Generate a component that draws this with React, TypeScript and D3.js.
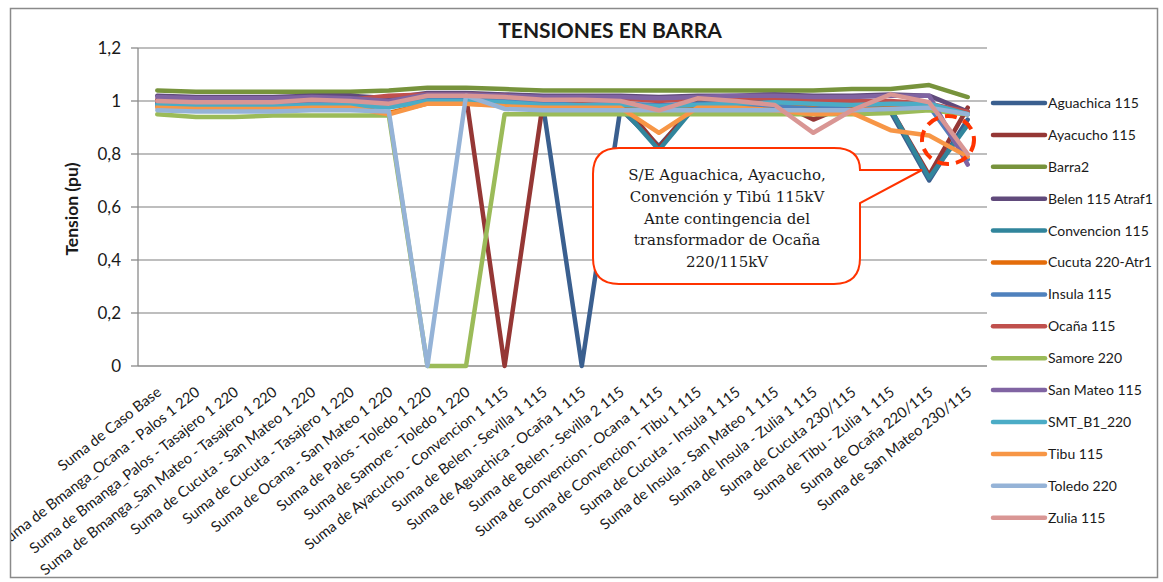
import React from "react";
import * as d3 from "d3";

const categories = [
  "Suma de Caso Base",
  "Suma de Bmanga_Ocana - Palos 1 220",
  "Suma de Bmanga_Palos - Tasajero 1 220",
  "Suma de Bmanga_San Mateo - Tasajero 1 220",
  "Suma de Cucuta - San Mateo 1 220",
  "Suma de Cucuta - Tasajero 1 220",
  "Suma de Ocana - San Mateo 1 220",
  "Suma de Palos - Toledo 1 220",
  "Suma de Samore - Toledo 1 220",
  "Suma de Ayacucho  - Convencion 1 115",
  "Suma de Belen - Sevilla 1 115",
  "Suma de Aguachica - Ocaña 1 115",
  "Suma de Belen - Sevilla 2 115",
  "Suma de Convencion - Ocana 1 115",
  "Suma de Convencion - Tibu 1 115",
  "Suma de Cucuta - Insula 1 115",
  "Suma de Insula - San Mateo 1 115",
  "Suma de Insula - Zulia 1 115",
  "Suma de Cucuta 230/115",
  "Suma de Tibu - Zulia 1 115",
  "Suma de Ocaña 220/115",
  "Suma de San Mateo 230/115",
];

const yTickValues = [0, 0.2, 0.4, 0.6, 0.8, 1, 1.2];
const yTickLabels = ["0", "0,2", "0,4", "0,6", "0,8", "1", "1,2"];

const seriesNames = [
  "Aguachica 115",
  "Ayacucho 115",
  "Barra2",
  "Belen 115 Atraf1",
  "Convencion 115",
  "Cucuta 220-Atr1",
  "Insula 115",
  "Ocaña 115",
  "Samore 220",
  "San Mateo 115",
  "SMT_B1_220",
  "Tibu 115",
  "Toledo 220",
  "Zulia 115",
];

const seriesColors = [
  "#3a5f8f",
  "#953735",
  "#77933c",
  "#604a7b",
  "#31859c",
  "#e46c0a",
  "#4f81bd",
  "#c0504d",
  "#9bbb59",
  "#8064a2",
  "#4bacc6",
  "#f79646",
  "#95b3d7",
  "#d99694",
];

const aguachica = [0.995, 0.99, 0.99, 0.99, 0.995, 0.995, 0.99, 1.01, 1.01, 1.0, 0.98, 0, 0.97, 0.83, 0.99, 0.99, 0.99, 0.98, 0.98, 0.96, 0.70, 0.93];
const ayacucho = [1.005, 1.0, 1.0, 1.0, 1.005, 1.005, 1.01, 1.02, 1.02, 0, 1.0, 0.99, 1.0, 0.825, 1.0, 1.0, 1.0, 0.93, 0.99, 0.97, 0.72, 0.975];
const barra2 = [1.04, 1.035, 1.035, 1.035, 1.035, 1.035, 1.04, 1.05, 1.05, 1.045, 1.04, 1.04, 1.04, 1.04, 1.04, 1.04, 1.04, 1.04, 1.045, 1.045, 1.06, 1.015];
const belen = [1.02, 1.015, 1.015, 1.015, 1.02, 1.02, 1.01, 1.03, 1.03, 1.025, 1.02, 1.02, 1.02, 1.015, 1.02, 1.02, 1.025, 1.02, 1.02, 1.025, 1.02, 0.96];
const convencion = [0.99, 0.985, 0.985, 0.99, 0.995, 0.99, 0.985, 1.01, 1.01, 1.0, 0.99, 0.98, 0.98, 0.815, 0.99, 0.99, 0.99, 0.985, 0.98, 0.97, 0.71, 0.91];
const cucuta = [0.98, 0.975, 0.975, 0.975, 0.98, 0.98, 0.955, 0.99, 0.99, 0.985, 0.98, 0.98, 0.98, 0.975, 0.98, 0.98, 0.98, 0.975, 0.975, 0.975, 0.97, 0.95];
const insula = [0.99, 0.985, 0.985, 0.985, 0.99, 0.99, 0.985, 1.005, 1.005, 1.0, 0.99, 0.99, 0.99, 0.985, 0.99, 0.99, 0.98, 0.97, 0.985, 0.99, 0.98, 0.78];
const ocana = [1.0, 1.0, 1.0, 1.0, 1.005, 1.005, 1.02, 1.025, 1.025, 1.02, 1.01, 1.0, 1.01, 1.0, 1.01, 1.01, 1.01, 1.0, 1.0, 1.0, 0.99, 0.96];
const samore = [0.95, 0.94, 0.94, 0.945, 0.945, 0.945, 0.945, 0, 0, 0.95, 0.95, 0.95, 0.95, 0.95, 0.95, 0.95, 0.95, 0.95, 0.95, 0.955, 0.965, 0.95];
const sanMateo = [1.015, 1.01, 1.01, 1.01, 1.015, 1.01, 1.0, 1.025, 1.025, 1.02, 1.015, 1.015, 1.015, 1.01, 1.015, 1.02, 1.02, 1.015, 1.015, 1.02, 1.02, 0.76];
const smt = [0.985, 0.98, 0.98, 0.98, 0.985, 0.985, 0.975, 1.0, 1.0, 0.995, 0.985, 0.985, 0.985, 0.98, 0.985, 0.99, 0.995, 0.99, 0.985, 0.99, 0.99, 0.95];
const tibu = [0.975, 0.97, 0.97, 0.97, 0.975, 0.975, 0.95, 0.99, 0.99, 0.98, 0.975, 0.975, 0.975, 0.88, 0.975, 0.975, 0.965, 0.95, 0.955, 0.89, 0.87, 0.79];
const toledo = [0.965, 0.96, 0.96, 0.96, 0.965, 0.965, 0.96, 0, 1.02, 0.97, 0.965, 0.965, 0.965, 0.965, 0.965, 0.965, 0.965, 0.965, 0.965, 0.97, 0.975, 0.95];
const zulia = [1.0, 0.995, 0.995, 0.995, 1.005, 1.0, 0.99, 1.02, 1.02, 1.015, 1.005, 1.005, 1.0, 0.965, 1.01, 1.0, 0.985, 0.88, 0.965, 1.025, 0.995, 0.80];

const seriesValues = [aguachica, ayacucho, barra2, belen, convencion, cucuta, insula, ocana, samore, sanMateo, smt, tibu, toledo, zulia];

const calloutLines = [
  "S/E Aguachica, Ayacucho,",
  "Convención y Tibú 115kV",
  "Ante contingencia del",
  "transformador de Ocaña",
  "220/115kV",
];

const W = 1163;
const H = 582;
const plotLeft = 138;
const plotRight = 987;
const plotTop = 48;
const plotBottom = 366;
const FONT = "Lato, 'Open Sans', sans-serif";

export default function App() {
  const x = d3.scaleBand<string>().domain(categories).range([plotLeft, plotRight]);
  const y = d3.scaleLinear().domain([0, 1.2]).range([plotBottom, plotTop]);
  const cx = (c: string) => (x(c) as number) + x.bandwidth() / 2;
  const line = d3
    .line<number>()
    .x((_, i) => cx(categories[i]))
    .y((d) => y(d));

  // callout geometry
  const bx0 = 593, bx1 = 860, by0 = 148, by1 = 284, r = 26;
  const tipX = 922, tipY = 170, tailTopY = 170, tailBotY = 203;
  const calloutPath = [
    `M ${bx0 + r} ${by0}`,
    `L ${bx1 - r} ${by0}`,
    `Q ${bx1} ${by0} ${bx1} ${tailTopY}`,
    `L ${tipX} ${tipY}`,
    `L ${bx1} ${tailBotY}`,
    `L ${bx1} ${by1 - r}`,
    `Q ${bx1} ${by1} ${bx1 - r} ${by1}`,
    `L ${bx0 + r} ${by1}`,
    `Q ${bx0} ${by1} ${bx0} ${by1 - r}`,
    `L ${bx0} ${by0 + r}`,
    `Q ${bx0} ${by0} ${bx0 + r} ${by0}`,
    "Z",
  ].join(" ");

  return (
    <div style={{ position: "absolute", left: 0, top: 0 }}>
      <svg width={W} height={H} style={{ display: "block", background: "#fff" }}>
        <defs>
          <clipPath id="chartClip">
            <rect x={11} y={9} width={1146} height={568} />
          </clipPath>
        </defs>
        <rect x={10.5} y={8.5} width={1147} height={569} fill="#fff" stroke="#8a8a8a" strokeWidth={1.5} />
        <text x={610} y={38} textAnchor="middle" fontFamily={FONT} fontWeight="bold" fontSize={21} fill="#1a1a1a">
          TENSIONES EN BARRA
        </text>

        {/* gridlines */}
        {yTickValues.map((v, i) => (
          <g key={"g" + i}>
            <line x1={plotLeft} x2={plotRight} y1={y(v)} y2={y(v)} stroke={v === 0 ? "#8a8a8a" : "#a8a8a8"} strokeWidth={1.3} />
            <line x1={plotLeft - 7} x2={plotLeft} y1={y(v)} y2={y(v)} stroke="#8a8a8a" strokeWidth={1.3} />
            <text x={121} y={y(v)} dy="0.35em" textAnchor="end" fontFamily={FONT} fontSize={17} fill="#1a1a1a">
              {yTickLabels[i]}
            </text>
          </g>
        ))}
        <line x1={plotLeft} x2={plotLeft} y1={plotTop} y2={plotBottom} stroke="#8a8a8a" strokeWidth={1.3} />

        <text
          transform={`translate(78, ${(plotTop + plotBottom) / 2 + 2}) rotate(-90)`}
          textAnchor="middle"
          fontFamily={FONT}
          fontWeight="bold"
          fontSize={17.5}
          fill="#1a1a1a"
        >
          Tension (pu)
        </text>

        {/* x labels */}
        <g clipPath="url(#chartClip)">
          {categories.map((c, i) => (
            <text
              key={"x" + i}
              transform={`translate(${cx(c) + 5}, 394) rotate(-38)`}
              textAnchor="end"
              fontFamily={FONT}
              fontSize={14.8}
              fill="#1a1a1a"
            >
              {c}
            </text>
          ))}
        </g>

        {/* series */}
        {seriesValues.map((vals, i) => (
          <path
            key={"s" + i}
            d={line(vals) || ""}
            fill="none"
            stroke={seriesColors[i]}
            strokeWidth={4.5}
            strokeLinejoin="round"
            strokeLinecap="round"
          />
        ))}

        {/* legend */}
        {seriesNames.map((n, i) => {
          const ly = 103 + i * 31.9;
          return (
            <g key={"l" + i}>
              <line x1={993} x2={1045} y1={ly} y2={ly} stroke={seriesColors[i]} strokeWidth={4.5} strokeLinecap="round" />
              <text x={1048} y={ly} dy="0.35em" fontFamily={FONT} fontSize={14} fill="#1a1a1a">
                {n}
              </text>
            </g>
          );
        })}

        {/* dashed highlight */}
        <ellipse cx={948} cy={140} rx={26} ry={24} fill="none" stroke="#ff3300" strokeWidth={4} strokeDasharray="12 7" />

        {/* callout */}
        <path d={calloutPath} fill="#fff" stroke="#ff3300" strokeWidth={2} />
        {calloutLines.map((t, i) => (
          <text key={"c" + i} x={727} y={180 + i * 21.8} textAnchor="middle" fontFamily="'DejaVu Serif', serif" fontSize={15} fill="#1a1a1a">
            {t}
          </text>
        ))}
      </svg>
    </div>
  );
}
